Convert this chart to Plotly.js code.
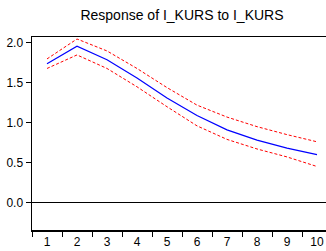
<!DOCTYPE html>
<html><head><meta charset="utf-8">
<script src="https://cdn.plot.ly/plotly-3.0.1.min.js"></script>
<style>html,body{margin:0;padding:0;overflow:hidden;background:#fff;}</style>
</head><body><div id="chart" style="width:332px;height:251px;"></div>
<script>
const periods = [1,2,3,4,5,6,7,8,9,10];
const response = [1.74,1.96,1.79,1.56,1.31,1.09,0.91,0.78,0.68,0.60];
const upper = [1.80,2.05,1.90,1.68,1.44,1.22,1.07,0.95,0.85,0.76];
const lower = [1.68,1.85,1.68,1.45,1.20,0.96,0.79,0.67,0.57,0.45];
const tickLabels = ['1','2','3','4','5','6','7','8','9','10'];

const traces = [
  {x: periods, y: upper, mode:'lines', line:{color:'#ff0000', width:1, dash:'3px,2px'}, hoverinfo:'skip'},
  {x: periods, y: lower, mode:'lines', line:{color:'#ff0000', width:1, dash:'3px,2px'}, hoverinfo:'skip'},
  {x: periods, y: response, mode:'lines', line:{color:'#0000ff', width:1.2}, hoverinfo:'skip'}
];
const layout = {
  width:332, height:251,
  margin:{l:32, r:0, t:37, b:21, pad:0},
  showlegend:false,
  paper_bgcolor:'#fff', plot_bgcolor:'#fff',
  font:{family:'Arial, Liberation Sans, sans-serif', size:12, color:'#000'},
  title:{text:'Response of I_KURS to I_KURS', xref:'paper', x:0.5, xanchor:'center', yref:'container', y:0.94, yanchor:'middle', font:{size:14, color:'#000'}},
  xaxis:{range:[0.5,10.5], tickmode:'array', tickvals:periods, ticktext:tickLabels, ticks:'', showgrid:false, zeroline:false,
    showline:true, linecolor:'#000', linewidth:1.5, mirror:true,
    minor:{tickmode:'linear', tick0:0.5, dtick:1, ticks:'outside', ticklen:5, tickcolor:'#000', tickwidth:1, showgrid:false},
    tickfont:{size:12}},
  yaxis:{range:[-0.347,2.075], tickmode:'array', tickvals:[0,0.5,1,1.5,2], ticktext:['0.0','0.5','1.0','1.5','2.0'],
    ticks:'outside', ticklen:5, tickcolor:'#000', tickwidth:1, showgrid:false,
    zeroline:true, zerolinecolor:'#000', zerolinewidth:1,
    showline:true, linecolor:'#000', linewidth:1.5, mirror:true, tickfont:{size:12}}
};
Plotly.newPlot('chart', traces, layout, {staticPlot:true, displayModeBar:false});
</script></body></html>
